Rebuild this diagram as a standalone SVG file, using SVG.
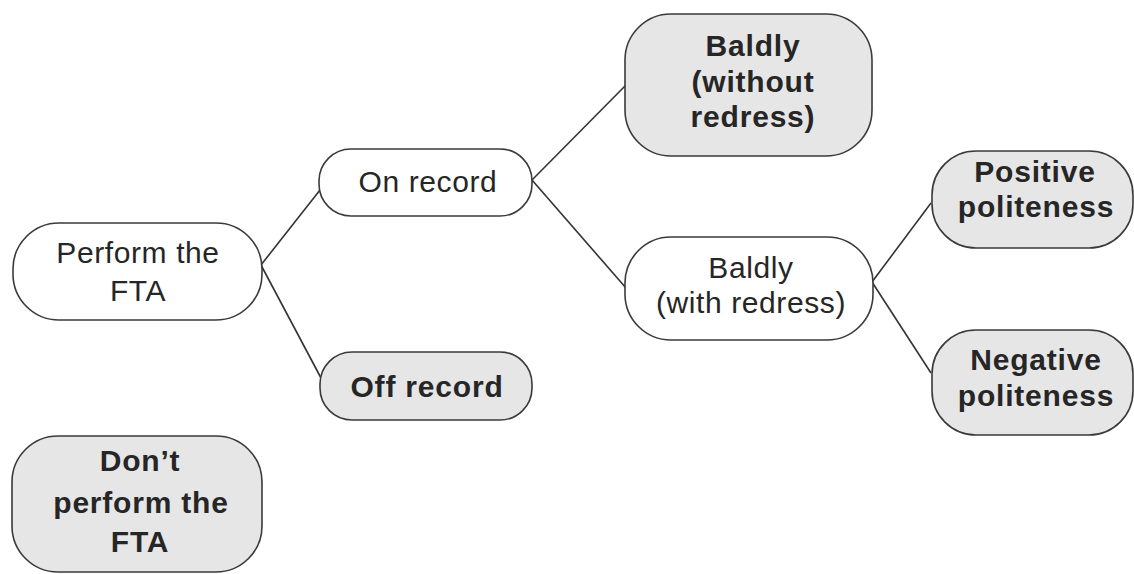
<svg xmlns="http://www.w3.org/2000/svg" width="1134" height="574" viewBox="0 0 1134 574">
<style>
.box{stroke:#3a3a3a;stroke-width:1.6}
.w{fill:#ffffff}
.g{fill:#e6e6e6}
.t{font-family:"Liberation Sans",Arial,sans-serif;font-size:30px;fill:#262626;text-anchor:middle;letter-spacing:0.6px}
.b{font-weight:bold;letter-spacing:0.8px}
.c{stroke:#333;stroke-width:1.6;fill:none}
</style>
<rect width="1134" height="574" fill="#ffffff"/>
<g id="connectors">
<line class="c" x1="261" y1="265" x2="320" y2="190"/>
<line class="c" x1="261" y1="265" x2="321" y2="378"/>
<line class="c" x1="532" y1="180" x2="627" y2="84"/>
<line class="c" x1="532" y1="180" x2="626" y2="288"/>
<line class="c" x1="872" y1="282" x2="931" y2="203"/>
<line class="c" x1="872" y1="282" x2="931" y2="373"/>
</g>
<g id="perform">
<rect class="box w" x="13" y="223" width="249" height="97" rx="46" ry="46"/>
<text class="t" x="138" y="263">Perform the</text>
<text class="t" x="138" y="301">FTA</text>
</g>
<g id="onrecord">
<rect class="box w" x="319" y="149" width="213" height="67" rx="32" ry="32"/>
<text class="t" x="428" y="192">On record</text>
</g>
<g id="offrecord">
<rect class="box g" x="320" y="352" width="212" height="68" rx="32" ry="32"/>
<text class="t b" x="427" y="397">Off record</text>
</g>
<g id="baldlywithout">
<rect class="box g" x="625" y="14" width="247" height="142" rx="46" ry="46"/>
<text class="t b" x="753" y="56">Baldly</text>
<text class="t b" x="753" y="92">(without</text>
<text class="t b" x="753" y="127">redress)</text>
</g>
<g id="baldlywith">
<rect class="box w" x="625" y="237" width="248" height="103" rx="46" ry="46"/>
<text class="t" x="751" y="278">Baldly</text>
<text class="t" x="751" y="313">(with redress)</text>
</g>
<g id="positive">
<rect class="box g" x="932" y="151" width="201" height="97" rx="44" ry="44"/>
<text class="t b" x="1035" y="182">Positive</text>
<text class="t b" x="1036" y="217">politeness</text>
</g>
<g id="negative">
<rect class="box g" x="932" y="330" width="201" height="105" rx="44" ry="44"/>
<text class="t b" x="1036" y="370">Negative</text>
<text class="t b" x="1036" y="406">politeness</text>
</g>
<g id="dontperform">
<rect class="box g" x="12" y="436" width="250" height="136" rx="46" ry="46"/>
<text class="t b" x="140" y="471">Don’t</text>
<text class="t b" x="141" y="513">perform the</text>
<text class="t b" x="140" y="552">FTA</text>
</g>
</svg>
